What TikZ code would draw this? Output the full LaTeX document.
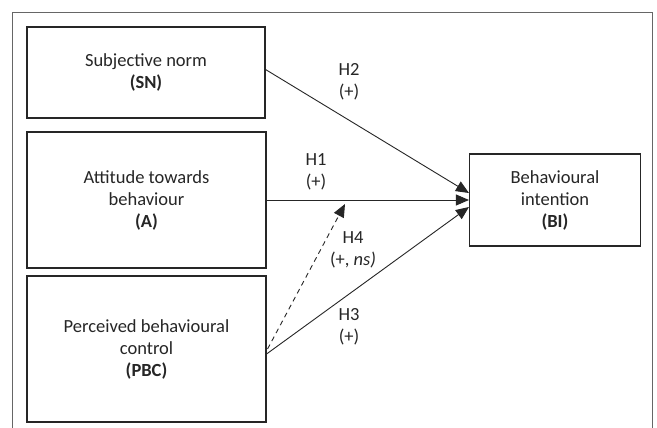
\documentclass[tikz,border=0pt]{standalone}
\usepackage{fontspec}
\setmainfont{Carlito}
\usetikzlibrary{arrows.meta}
\definecolor{ink}{HTML}{262626}
\tikzset{
  box/.style={draw=ink, line width=1.1pt, align=center, text=ink, inner sep=0pt,
    font=\fontsize{18.5}{22}\selectfont},
  lbl/.style={text=ink, align=center, inner sep=0pt, font=\fontsize{18.5}{22}\selectfont},
  conn/.style={draw=ink, line width=0.9pt, -{Triangle[length=13pt,width=11pt]}},
}
\begin{document}
\begin{tikzpicture}[x=1pt,y=-1pt]
\useasboundingbox (0,0) rectangle (657,428);
\fill[white] (0,0) rectangle (657,428);
\draw[color=gray!80!black, line width=0.9pt] (12,428) -- (12,12) -- (652,12) -- (652,428);

\node[box, minimum width=238pt, minimum height=91pt] (SN) at (146,72.5)
  {Subjective norm\\\textbf{(SN)}};
\node[box, minimum width=239pt, minimum height=136pt] (A) at (146.5,200)
  {Attitude towards\\behaviour\\\textbf{(A)}};
\node[box, minimum width=239pt, minimum height=146pt] (PBC) at (146.5,349)
  {Perceived behavioural\\control\\\textbf{(PBC)}};
\node[box, minimum width=171pt, minimum height=92pt] (BI) at (555,200)
  {Behavioural\\intention\\\textbf{(BI)}};

\coordinate (mod) at (345,204);

\draw[conn] ([yshift=3pt]SN.east) -- ([yshift=7pt]BI.west);
\draw[conn] (A.east) -- (BI.west);
\draw[conn] ([yshift=-5pt]PBC.east) -- ([yshift=-7pt]BI.west);
\draw[conn, dashed, dash pattern=on 5pt off 4pt] ([xshift=1pt]PBC.east) -- (mod);

\node[lbl] (h2) at (349,82) {H2\\(+)};
\node[lbl] (h1) at (316,172) {H1\\(+)};
\node[lbl] (h4) at (353,250) {H4\\(+, \textit{ns)}};
\node[lbl] (h3) at (349,327) {H3\\(+)};
\end{tikzpicture}
\end{document}
